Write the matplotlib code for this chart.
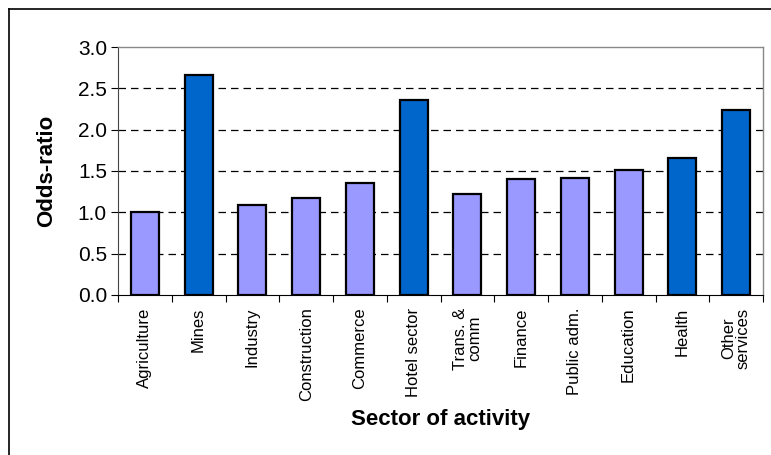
import matplotlib.pyplot as plt
from matplotlib.lines import Line2D

sectors = ["Agriculture", "Mines", "Industry", "Construction", "Commerce",
           "Hotel sector", "Trans. &\ncomm", "Finance", "Public adm.",
           "Education", "Health", "Other\nservices"]
odds = [1.00, 2.66, 1.09, 1.17, 1.35, 2.36, 1.22, 1.40, 1.42, 1.51, 1.66, 2.24]
highlight = [False, True, False, False, False, True, False, False, False, False, True, True]

light = "#9999FF"
dark = "#0066CC"

plt.rcParams['font.family'] = ['Liberation Sans', 'DejaVu Sans']

fig = plt.figure(figsize=(7.71, 4.55), dpi=100)
ax = fig.add_axes([118/771, 1-295/455, (763-118)/771, (295-47)/455])

x = list(range(len(sectors)))
cols = [dark if h else light for h in highlight]
ax.bar(x, odds, width=0.52, color=cols, edgecolor="black", linewidth=1.6, zorder=3)

ax.set_xlim(-0.5, len(sectors)-0.5)
ax.set_ylim(0, 3.0)
ax.set_yticks([0, 0.5, 1.0, 1.5, 2.0, 2.5, 3.0])
ax.set_yticklabels(["0.0", "0.5", "1.0", "1.5", "2.0", "2.5", "3.0"], fontsize=15)
for yv in [0.5, 1.0, 1.5, 2.0, 2.5]:
    ax.axhline(yv, color="black", linestyle=(0, (6, 4)), linewidth=0.9, zorder=1)

# category labels in the middle, ticks between categories
ax.set_xticks(x)
ax.set_xticklabels(sectors, rotation=90, fontsize=12, linespacing=0.95)
ax.tick_params(axis="x", which="major", length=0, pad=9)
ax.set_xticks([i - 0.5 for i in range(len(sectors)+1)], minor=True)
ax.tick_params(axis="x", which="minor", length=5, width=0.8, direction="out")
ax.tick_params(axis="y", length=5, width=0.8, direction="out", pad=3)

for s in ["top", "right"]:
    ax.spines[s].set_color("#888888")
    ax.spines[s].set_linewidth(1.0)
ax.spines["left"].set_color("#444444")
ax.spines["bottom"].set_color("black")

ax.set_ylabel("Odds-ratio", fontsize=16, fontweight="bold")
ax.yaxis.set_label_coords(-0.094, 0.5)
ax.set_xlabel("Sector of activity", fontsize=16, fontweight="bold")
ax.xaxis.set_label_coords(0.5, -(409-295)/248)

# outer frame (left and top only)
fig.add_artist(Line2D([9/771, 9/771], [0, 1-9/455], color="black", linewidth=1.2, transform=fig.transFigure))
fig.add_artist(Line2D([9/771, 1], [1-9/455, 1-9/455], color="black", linewidth=1.2, transform=fig.transFigure))

fig.savefig("out.png", dpi=100)
